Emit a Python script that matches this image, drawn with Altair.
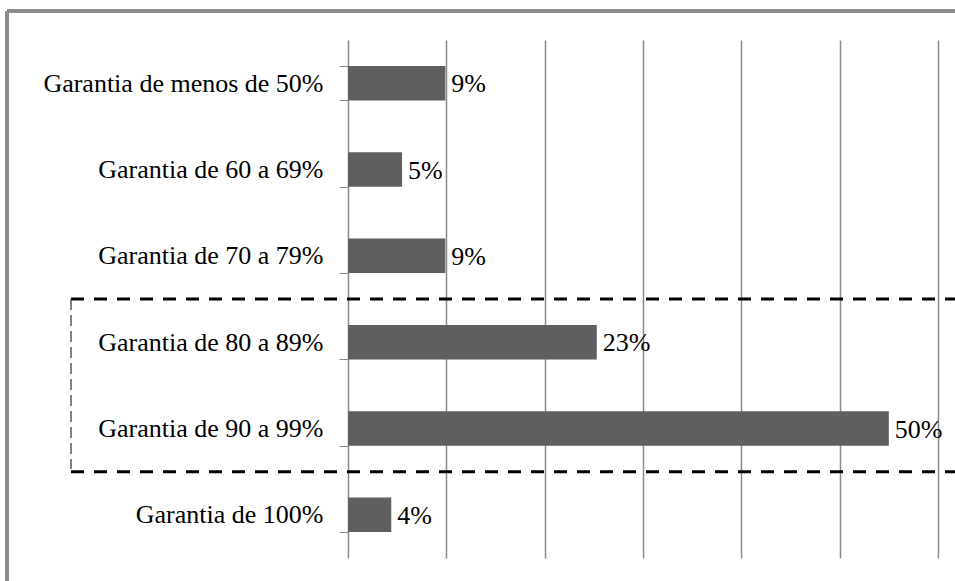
import altair as alt
import pandas as pd

# Share of guarantee brackets (percent)
categories = [
    "Garantia de menos de 50%",
    "Garantia de 60 a 69%",
    "Garantia de 70 a 79%",
    "Garantia de 80 a 89%",
    "Garantia de 90 a 99%",
    "Garantia de 100%",
]
shares = [9, 5, 9, 23, 50, 4]
labels = ["9%", "5%", "9%", "23%", "50%", "4%"]

# Vertical gridlines sit at every 2 of 22 responses (in percent)
grid_values = [200 / 22 * k for k in range(1, 7)]
x_max = 1200 / 22

# Highlighted group of categories
highlight_top = "Garantia de 80 a 89%"
highlight_bottom = "Garantia de 90 a 99%"

df = pd.DataFrame({"cat": categories, "share": shares, "label": labels})

FONT = "Liberation Serif"
GRID = "#8a8a8a"
SIZE = 26
HALF_GAP = 26  # half of the inner band padding, in pixels

y_enc = alt.Y(
    "cat:N",
    sort=categories,
    title=None,
    scale=alt.Scale(paddingInner=0.6, paddingOuter=0.3),
    axis=alt.Axis(
        tickBand="extent",
        tickSize=9,
        tickColor=GRID,
        domainColor=GRID,
        domainWidth=1.5,
        labelFont=FONT,
        labelFontSize=SIZE,
        labelColor="black",
        labelPadding=16,
        labelLimit=400,
        grid=False,
    ),
)
x_enc = alt.X(
    "share:Q",
    title=None,
    scale=alt.Scale(domain=[0, x_max], nice=False),
    axis=alt.Axis(
        values=grid_values,
        labels=False,
        ticks=False,
        domain=False,
        grid=True,
        gridColor=GRID,
        gridWidth=1.5,
    ),
)

bars = alt.Chart(df).mark_bar(color="#5f5f5f").encode(y=y_enc, x=x_enc)

text = alt.Chart(df).mark_text(
    align="left", baseline="middle", dx=6, dy=1, font=FONT, fontSize=SIZE, color="black"
).encode(y=alt.Y("cat:N", sort=categories), x="share:Q", text="label:N")

# Dashed frame around the two top brackets (edges on the band boundaries)
box_df = pd.DataFrame({"cat": [highlight_top, highlight_bottom], "edge": ["top", "bottom"]})
dash_style = dict(color="black", strokeWidth=3, strokeDash=[13, 10])
box_top = alt.Chart(box_df).transform_filter(alt.datum.edge == "top").mark_rule(
    yOffset=-HALF_GAP, **dash_style
).encode(
    y=alt.Y("cat:N", sort=categories, bandPosition=0),
    x=alt.value(-277),
    x2=alt.value(620),
)
box_bottom = alt.Chart(box_df).transform_filter(alt.datum.edge == "bottom").mark_rule(
    yOffset=HALF_GAP, **dash_style
).encode(
    y=alt.Y("cat:N", sort=categories, bandPosition=1),
    x=alt.value(-277),
    x2=alt.value(620),
)
box_left = alt.Chart(box_df).transform_filter(alt.datum.edge == "top").mark_rule(
    color="#555555", strokeWidth=1.5, strokeDash=[11, 5]
).encode(
    x=alt.value(-277),
    y=alt.value(259),
    y2=alt.value(429),
)

# Outer frame of the figure
frame_top = alt.Chart(df).mark_rule(color="#8c8c8c", strokeWidth=3).encode(
    x=alt.value(-341), x2=alt.value(620), y=alt.value(-29)
)
frame_left = alt.Chart(df).mark_rule(color="#8c8c8c", strokeWidth=3).encode(
    x=alt.value(-341), y=alt.value(-29), y2=alt.value(560)
)

chart = (
    alt.layer(bars, text, box_top, box_bottom, box_left, frame_top, frame_left)
    .properties(
        width=590,
        height=518,
        autosize=alt.AutoSizeParams(type="none"),
        padding={"left": 348, "top": 40, "right": 17, "bottom": 23},
        background="white",
    )
    .configure_view(stroke=None)
)

chart.save("out.html", embed_options={"renderer": "svg", "actions": False})
